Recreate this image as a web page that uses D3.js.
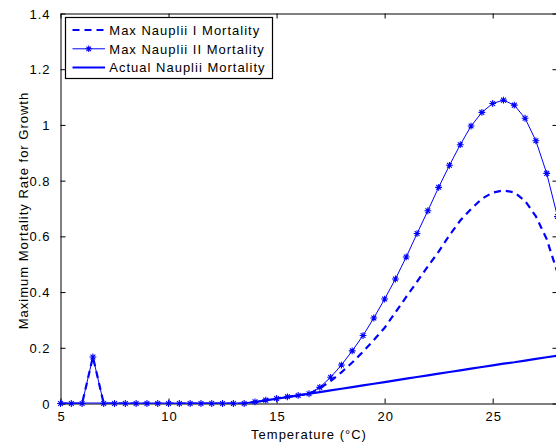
<!DOCTYPE html>
<html>
<head>
<meta charset="utf-8">
<script src="https://cdn.jsdelivr.net/npm/d3@7"></script>
<style>
html,body{margin:0;padding:0;background:#fff;overflow:hidden;}
svg{display:block;}
text{font-family:"Liberation Sans",Arial,Helvetica,sans-serif;fill:#000;letter-spacing:1px;}
</style>
</head>
<body>
<script>
// ---- data ----
const temperature = [5,5.5,6,6.5,7,7.5,8,8.5,9,9.5,10,10.5,11,11.5,12,12.5,13,13.5,14,14.5,15,15.5,16,16.5,17,17.5,18,18.5,19,19.5,20,20.5,21,21.5,22,22.5,23,23.5,24,24.5,25,25.5,26,26.5,27,27.5,28];
const maxNaupliiI = [0,0,0,0.167,0,0,0,0,0,0,0,0,0,0,0,0,0,0,0.006,0.012,0.018,0.024,0.029,0.035,0.055,0.080,0.112,0.147,0.186,0.228,0.272,0.327,0.383,0.437,0.492,0.545,0.604,0.657,0.698,0.735,0.757,0.765,0.758,0.727,0.672,0.590,0.470];
const maxNaupliiII = [0,0,0,0.167,0,0,0,0,0,0,0,0,0,0,0,0,0,0,0.006,0.012,0.018,0.024,0.029,0.035,0.058,0.094,0.138,0.189,0.244,0.307,0.375,0.447,0.526,0.610,0.692,0.776,0.855,0.929,0.996,1.045,1.077,1.089,1.071,1.024,0.943,0.826,0.671];
const actualNauplii = [0,0,0,0,0,0,0,0,0,0,0,0,0,0,0,0,0,0,0.005,0.011,0.017,0.023,0.029,0.035,0.041,0.047,0.053,0.059,0.065,0.071,0.077,0.083,0.089,0.095,0.101,0.107,0.113,0.119,0.125,0.131,0.137,0.143,0.148,0.154,0.160,0.166,0.172];
const xTicks = [5,10,15,20,25];
const yTicks = [0,0.2,0.4,0.6,0.8,1,1.2,1.4];
const yTickLabels = ["0","0.2","0.4","0.6","0.8","1","1.2","1.4"];
const legendLabels = ["Max Nauplii I Mortality","Max Nauplii II Mortality","Actual Nauplii Mortality"];
const xTitle = "Temperature (\u00B0C)";
const yTitle = "Maximum Mortality Rate for Growth";

// ---- layout ----
const W = 556, H = 448;
const L = 60.5, R = 557.5, T = 13.5, B = 403.5;
const blue = "#0000ff";

const svg = d3.select("body").append("svg").attr("width", W).attr("height", H);
svg.append("rect").attr("width", W).attr("height", H).attr("fill", "#fff");

const x = d3.scaleLinear().domain([5, 28]).range([L, R]);
const y = d3.scaleLinear().domain([0, 1.4]).range([B, T]);

svg.append("defs").append("clipPath").attr("id","clip")
  .append("rect").attr("x", L).attr("y", T).attr("width", R - L).attr("height", B - T);

const tickLen = 5;

const xAxisB = d3.axisBottom(x).tickValues(xTicks).tickSizeInner(-tickLen).tickSizeOuter(0).tickFormat(d3.format("d"));
const gxb = svg.append("g").attr("transform", `translate(0,${B})`).call(xAxisB);
const xAxisT = d3.axisTop(x).tickValues(xTicks).tickSizeInner(-tickLen).tickSizeOuter(0).tickFormat("");
const gxt = svg.append("g").attr("transform", `translate(0,${T})`).call(xAxisT);
const yAxisL = d3.axisLeft(y).tickValues(yTicks).tickSizeInner(-tickLen).tickSizeOuter(0).tickPadding(10)
  .tickFormat((d,i) => yTickLabels[i]);
const gyl = svg.append("g").attr("transform", `translate(${L},0)`).call(yAxisL);
const yAxisR = d3.axisRight(y).tickValues(yTicks).tickSizeInner(-tickLen).tickSizeOuter(0).tickFormat("");
const gyr = svg.append("g").attr("transform", `translate(${R},0)`).call(yAxisR);

[gxb,gxt,gyl,gyr].forEach(g => {
  g.select(".domain").attr("stroke", "#000").attr("stroke-width", 1);
  g.selectAll(".tick line").attr("stroke", "#000").attr("stroke-width", 1);
  g.selectAll(".tick text").attr("font-size", 13).attr("font-family", "Liberation Sans, Arial, sans-serif").attr("fill","#000");
});
gxb.selectAll(".tick text").attr("dy", "0.71em").attr("y", 8.5).attr("dx", "0.5");
gyl.selectAll(".tick text").attr("dy", "0.35em");

svg.append("text").attr("x", (L + R) / 2).attr("y", 439).attr("text-anchor", "middle")
  .attr("font-size", 13).text(xTitle);
svg.append("text").attr("transform", `translate(28,${(T + B) / 2 + 2}) rotate(-90)`)
  .attr("text-anchor", "middle").attr("font-size", 13).text(yTitle);

const plot = svg.append("g").attr("clip-path", "url(#clip)");
const lineFor = vals => d3.line().x((d,i) => x(temperature[i])).y(d => y(d))(vals);

plot.append("path").attr("d", lineFor(actualNauplii)).attr("fill","none")
  .attr("stroke", blue).attr("stroke-width", 2.2);
plot.append("path").attr("d", lineFor(maxNaupliiI)).attr("fill","none")
  .attr("stroke", blue).attr("stroke-width", 2.2).attr("stroke-dasharray", "7,5");
plot.append("path").attr("d", lineFor(maxNaupliiII)).attr("fill","none")
  .attr("stroke", blue).attr("stroke-width", 1);

function asterisk(g, cx, cy, r) {
  const d = r * 0.7071;
  const p = `M${cx-r},${cy}L${cx+r},${cy}M${cx},${cy-r}L${cx},${cy+r}` +
            `M${cx-d},${cy-d}L${cx+d},${cy+d}M${cx-d},${cy+d}L${cx+d},${cy-d}`;
  g.append("path").attr("d", p).attr("stroke", blue).attr("stroke-width", 1.1).attr("fill", "none");
}
const markers = svg.append("g");
maxNaupliiII.forEach((v, i) => asterisk(markers, x(temperature[i]), y(v), 3.4));

const lg = svg.append("g");
lg.append("rect").attr("x", 65.5).attr("y", 17.5).attr("width", 207).attr("height", 61)
  .attr("fill", "#fff").attr("stroke", "#000").attr("stroke-width", 1.2);
const rowsY = [30, 48.8, 67.5];
const styles = [
  {w: 2.2, dash: "7,5", marker: false},
  {w: 1, dash: null, marker: true},
  {w: 2.2, dash: null, marker: false}
];
legendLabels.forEach((lab, i) => {
  const ly = rowsY[i];
  const ln = lg.append("line").attr("x1", 72.5).attr("x2", 105).attr("y1", ly).attr("y2", ly)
    .attr("stroke", blue).attr("stroke-width", styles[i].w);
  if (styles[i].dash) ln.attr("stroke-dasharray", styles[i].dash);
  if (styles[i].marker) asterisk(lg, 88.7, ly, 3.2);
  lg.append("text").attr("x", 109.3).attr("y", ly + 4.7).attr("font-size", 13).text(lab);
});
</script>
</body>
</html>
